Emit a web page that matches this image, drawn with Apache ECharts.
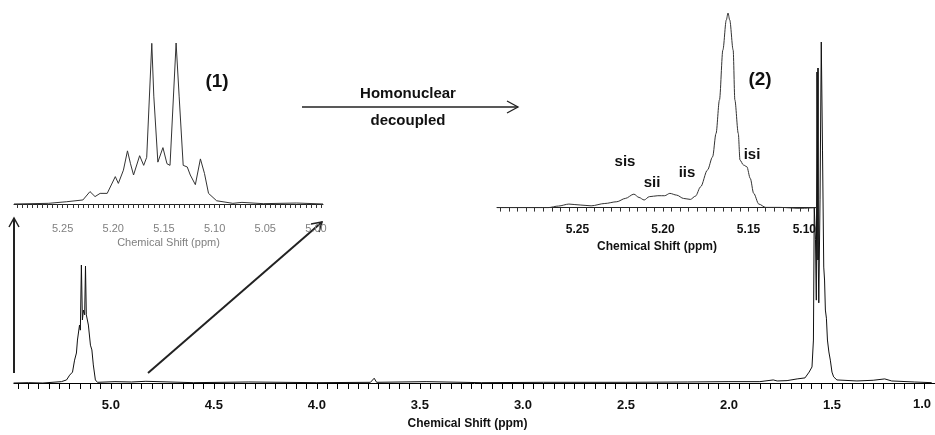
<!doctype html>
<html>
<head>
<meta charset="utf-8">
<title>1H NMR</title>
<script src="https://cdn.jsdelivr.net/npm/echarts@6/dist/echarts.min.js"></script>
<style>html,body{margin:0;padding:0;background:#fff;overflow:hidden}#chart{width:935px;height:435px}</style>
</head>
<body>
<div id="chart"></div>
<script>
// full spectrum (ppm, relative intensity)
var mainShift = [5.472,5.40,5.33,5.24,5.215,5.200,5.186,5.176,5.167,5.162,5.152,5.148,5.143,5.138,5.133,5.127,5.123,5.119,5.109,5.099,5.092,5.085,5.075,5.065,4.98,4.90,4.83,4.60,4.33,4.00,3.74,3.722,3.71,3.47,3.20,2.90,2.50,2.20,2.00,1.85,1.785,1.766,1.718,1.669,1.631,1.611,1.597,1.590,1.586,1.580,1.576,1.573,1.568,1.564,1.558,1.552,1.546,1.540,1.536,1.532,1.527,1.522,1.515,1.508,1.500,1.492,1.476,1.379,1.300,1.244,1.210,1.100,1.016];
var mainIntensity = [0,0.001,0,0.004,0.009,0.023,0.032,0.067,0.088,0.126,0.170,0.155,0.346,0.185,0.214,0.200,0.343,0.200,0.170,0.111,0.097,0.053,0.009,0.002,0.004,0.003,0.005,0.001,0.003,0.001,0.002,0.014,0.002,0.004,0.001,0.002,0.002,0.003,0.004,0.004,0.009,0.006,0.007,0.012,0.015,0.032,0.047,0.126,0.516,0.420,0.243,0.912,0.420,0.235,0.537,1.000,0.683,0.340,0.302,0.214,0.190,0.126,0.091,0.067,0.032,0.018,0.009,0.006,0.008,0.012,0.006,0.003,0.001];

// inset (1): coupled spectrum
var coupledShift = [5.298,5.264,5.246,5.230,5.223,5.218,5.213,5.206,5.202,5.198,5.195,5.190,5.186,5.183,5.180,5.174,5.170,5.167,5.162,5.160,5.156,5.151,5.147,5.144,5.138,5.135,5.131,5.127,5.124,5.119,5.114,5.110,5.106,5.098,5.082,5.073,5.052,5.019,4.993];
var coupledIntensity = [0,0.004,0.014,0.025,0.077,0.046,0.066,0.066,0.118,0.170,0.128,0.210,0.330,0.250,0.180,0.300,0.240,0.290,0.998,0.670,0.260,0.350,0.250,0.240,1.000,0.670,0.240,0.230,0.180,0.120,0.280,0.190,0.066,0.020,0.004,0.010,0.002,0.006,0];

// inset (2): homonuclear decoupled spectrum
var decoupledShift = [5.297,5.267,5.261,5.255,5.248,5.242,5.234,5.227,5.222,5.217,5.214,5.211,5.208,5.203,5.199,5.196,5.192,5.188,5.184,5.181,5.178,5.174,5.171,5.169,5.167,5.165,5.163,5.162,5.161,5.159,5.158,5.156,5.155,5.153,5.151,5.149,5.147,5.144,5.140,5.132,5.120,5.110];
var decoupledIntensity = [0,0,0.008,0.018,0.013,0.009,0.021,0.030,0.047,0.069,0.052,0.039,0.056,0.061,0.061,0.073,0.064,0.047,0.042,0.059,0.107,0.193,0.261,0.381,0.553,0.810,0.964,1.000,0.964,0.810,0.553,0.381,0.244,0.219,0.210,0.150,0.073,0.018,0.001,0.001,-0.004,0];

var mainTicks = [5.0,4.5,4.0,3.5,3.0,2.5,2.0,1.5];
var coupledTicks = [5.25,5.20,5.15,5.10,5.05,5.00];
var decoupledTicks = [5.25,5.20,5.15];

function pairs(xs, ys) {
    return xs.map(function (x, i) { return [x, ys[i]]; });
}
function steps(from, to, step) {
    var out = [];
    for (var t = from; t <= to + 1e-9; t += step) out.push(+t.toFixed(3));
    return out;
}

var FONT = 'Liberation Sans';
var myChart = echarts.init(document.getElementById('chart'));

var option = {
    animation: false,
    grid: [
        {left: 14, width: 928, top: 42, height: 348},
        {left: 14, width: 309, top: 43, height: 170},
        {left: 497, width: 320, top: 13, height: 201}
    ],
    xAxis: [
        {
            gridIndex: 0, type: 'value', inverse: true, min: 1.0, max: 5.47,
            axisLine: {lineStyle: {color: '#000', width: 1}},
            axisTick: {length: 6, customValues: steps(1.05, 5.45, 0.05), lineStyle: {color: '#000'}},
            splitLine: {show: false},
            axisLabel: {
                customValues: mainTicks, margin: 9,
                color: '#111', fontSize: 13, fontWeight: 'bold', fontFamily: FONT,
                formatter: function (v) { return v.toFixed(1); }
            },
            name: 'Chemical Shift (ppm)', nameLocation: 'middle', nameGap: 28,
            nameTextStyle: {color: '#111', fontSize: 12, fontWeight: 'bold', fontFamily: FONT, padding: [0, 14, 0, 0]}
        },
        {
            gridIndex: 1, type: 'value', inverse: true, min: 4.993, max: 5.298,
            axisLine: {lineStyle: {color: '#222', width: 1}},
            axisTick: {length: 4, customValues: steps(4.995, 5.295, 0.005), lineStyle: {color: '#333'}},
            splitLine: {show: false},
            axisLabel: {
                customValues: coupledTicks, margin: 10,
                color: '#808080', fontSize: 11, fontFamily: FONT,
                formatter: function (v) { return v.toFixed(2); }
            },
            name: 'Chemical Shift (ppm)', nameLocation: 'middle', nameGap: 24,
            nameTextStyle: {color: '#808080', fontSize: 11, fontFamily: FONT}
        },
        {
            gridIndex: 2, type: 'value', inverse: true, min: 5.11, max: 5.297,
            axisLine: {lineStyle: {color: '#222', width: 1}},
            axisTick: {length: 4, customValues: steps(5.115, 5.295, 0.005), lineStyle: {color: '#333'}},
            splitLine: {show: false},
            axisLabel: {
                customValues: decoupledTicks, margin: 10,
                color: '#111', fontSize: 12, fontWeight: 'bold', fontFamily: FONT,
                formatter: function (v) { return v.toFixed(2); }
            },
            name: 'Chemical Shift (ppm)', nameLocation: 'middle', nameGap: 27,
            nameTextStyle: {color: '#111', fontSize: 12, fontWeight: 'bold', fontFamily: FONT}
        }
    ],
    yAxis: [
        {gridIndex: 0, type: 'value', min: -0.0205, max: 1, show: false},
        {gridIndex: 1, type: 'value', min: -0.056, max: 1, show: false},
        {gridIndex: 2, type: 'value', min: -0.033, max: 1, show: false}
    ],
    series: [
        {type: 'line', xAxisIndex: 0, yAxisIndex: 0, data: pairs(mainShift, mainIntensity),
         showSymbol: false, lineStyle: {color: '#111', width: 1}},
        {type: 'line', xAxisIndex: 1, yAxisIndex: 1, data: pairs(coupledShift, coupledIntensity),
         showSymbol: false, lineStyle: {color: '#333', width: 1}},
        {type: 'line', xAxisIndex: 2, yAxisIndex: 2, data: pairs(decoupledShift, decoupledIntensity),
         showSymbol: false, smooth: 0.3, smoothMonotone: 'x', lineStyle: {color: '#333', width: 1}}
    ],
    graphic: [
        // vertical arrow
        {type: 'line', shape: {x1: 14, y1: 373, x2: 14, y2: 218}, style: {stroke: '#222', lineWidth: 2}},
        {type: 'polyline', shape: {points: [[9, 227], [14, 218], [19, 227]]}, style: {stroke: '#222', lineWidth: 1.5, fill: null}},
        // diagonal arrow
        {type: 'line', shape: {x1: 148, y1: 373, x2: 322, y2: 222}, style: {stroke: '#222', lineWidth: 2}},
        {type: 'polyline', shape: {points: [[311, 224], [322, 222], [319, 232]]}, style: {stroke: '#222', lineWidth: 1.5, fill: null}},
        // decoupling arrow
        {type: 'line', shape: {x1: 302, y1: 107, x2: 518, y2: 107}, style: {stroke: '#222', lineWidth: 1.5}},
        {type: 'polyline', shape: {points: [[507, 101], [518, 107], [507, 113]]}, style: {stroke: '#222', lineWidth: 1.3, fill: null}},
        {type: 'text', x: 408, y: 94, style: {text: 'Homonuclear', fill: '#111', font: 'bold 15px "Liberation Sans"', align: 'center', verticalAlign: 'middle'}},
        {type: 'text', x: 408, y: 121, style: {text: 'decoupled', fill: '#111', font: 'bold 15px "Liberation Sans"', align: 'center', verticalAlign: 'middle'}},
        {type: 'text', x: 217, y: 82, style: {text: '(1)', fill: '#111', font: 'bold 19px "Liberation Sans"', align: 'center', verticalAlign: 'middle'}},
        {type: 'text', x: 760, y: 80, style: {text: '(2)', fill: '#111', font: 'bold 19px "Liberation Sans"', align: 'center', verticalAlign: 'middle'}},
        {type: 'text', x: 625, y: 162, style: {text: 'sis', fill: '#111', font: 'bold 15px "Liberation Sans"', align: 'center', verticalAlign: 'middle'}},
        {type: 'text', x: 652, y: 183, style: {text: 'sii', fill: '#111', font: 'bold 15px "Liberation Sans"', align: 'center', verticalAlign: 'middle'}},
        {type: 'text', x: 687, y: 173, style: {text: 'iis', fill: '#111', font: 'bold 15px "Liberation Sans"', align: 'center', verticalAlign: 'middle'}},
        {type: 'text', x: 752, y: 155, style: {text: 'isi', fill: '#111', font: 'bold 15px "Liberation Sans"', align: 'center', verticalAlign: 'middle'}},
        // inset (2) right border and its clipped end label
        {type: 'line', shape: {x1: 818, y1: 68, x2: 818, y2: 260}, style: {stroke: '#333', lineWidth: 2}},
        {type: 'text', x: 816, y: 230, style: {text: '5.10', fill: '#111', font: 'bold 12px "Liberation Sans"', align: 'right', verticalAlign: 'middle'}},
        // main axis end label (tick itself falls just past the window edge)
        {type: 'text', x: 931, y: 404, style: {text: '1.0', fill: '#111', font: 'bold 13px "Liberation Sans"', align: 'right', verticalAlign: 'middle'}}
    ]
};

myChart.setOption(option);
</script>
</body>
</html>
